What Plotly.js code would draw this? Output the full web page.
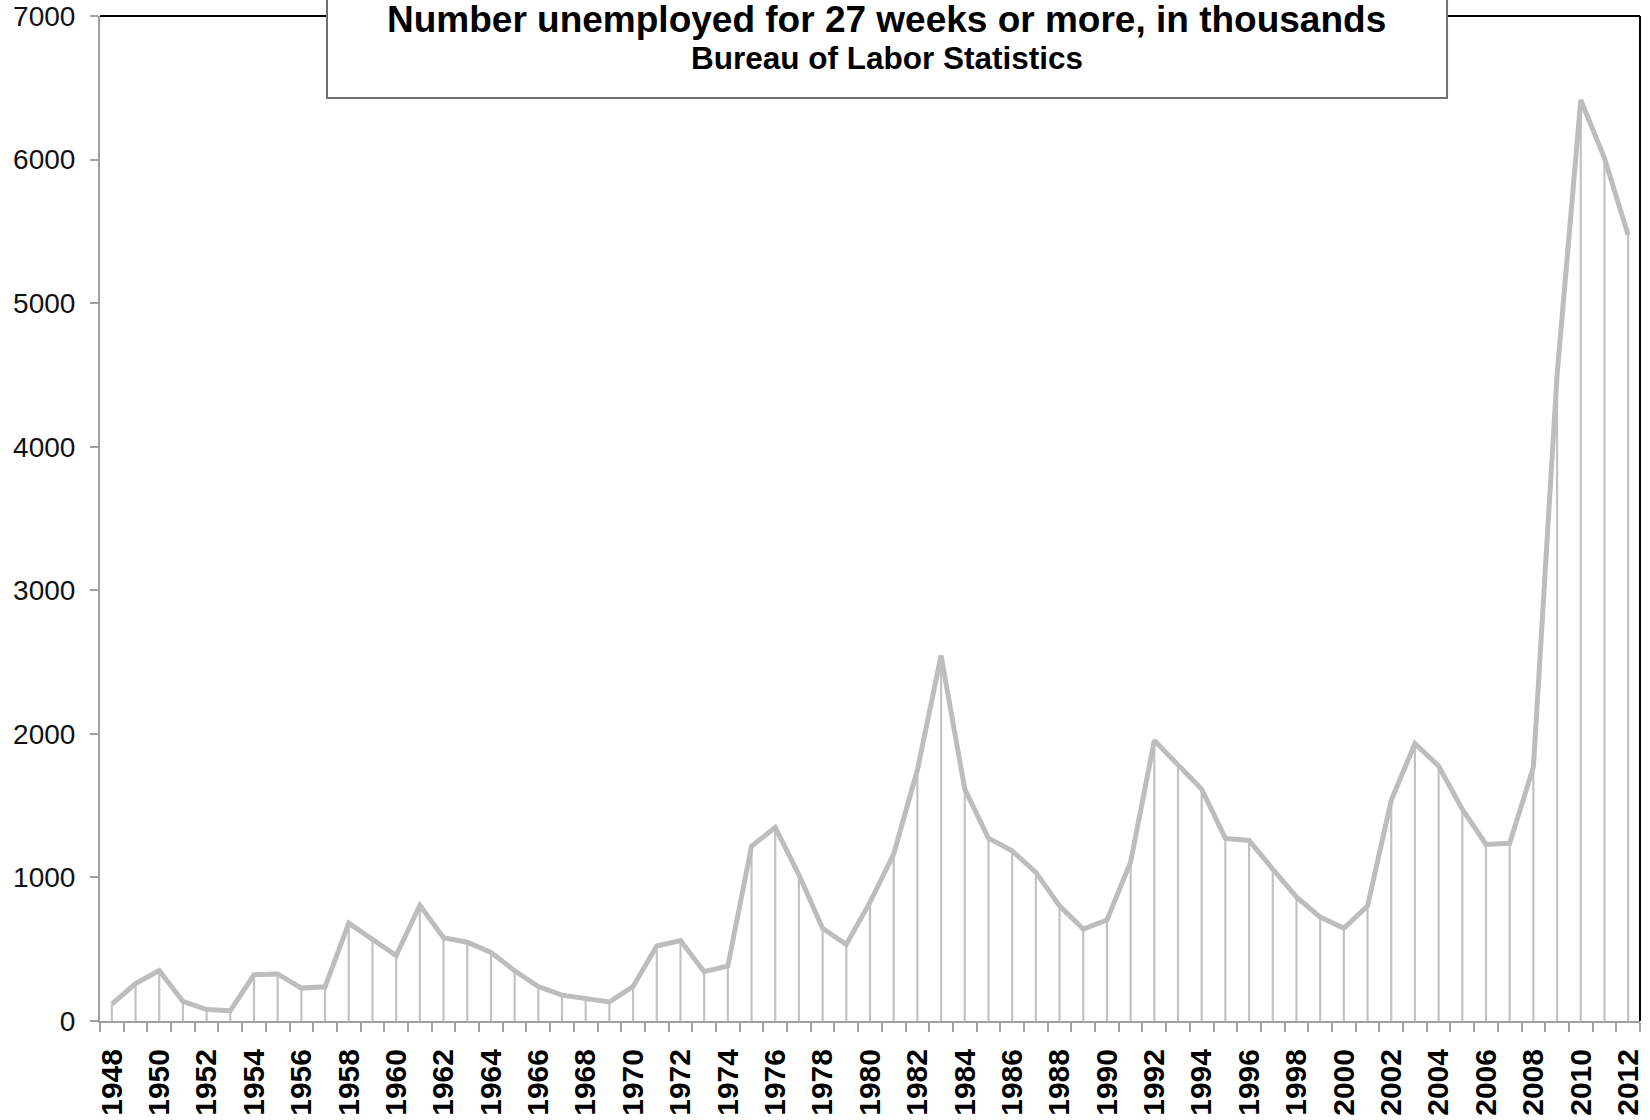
<!DOCTYPE html>
<html>
<head>
<meta charset="utf-8">
<script src="https://cdn.plot.ly/plotly-3.0.1.min.js"></script>
<style>html,body{margin:0;padding:0;background:#fff;}#chart{width:1650px;height:1120px;}</style>
</head>
<body>
<div id="chart"></div>
<script>
const years = [1948,1949,1950,1951,1952,1953,1954,1955,1956,1957,1958,1959,1960,1961,1962,1963,1964,1965,1966,1967,1968,1969,1970,1971,1972,1973,1974,1975,1976,1977,1978,1979,1980,1981,1982,1983,1984,1985,1986,1987,1988,1989,1990,1991,1992,1993,1994,1995,1996,1997,1998,1999,2000,2001,2002,2003,2004,2005,2006,2007,2008,2009,2010,2011,2012];
const unemployed27 = [117,260,352,136,80,72,322,328,229,238,682,566,456,806,580,549,478,350,240,180,157,133,240,522,561,343,383,1218,1348,1018,645,533,828,1163,1748,2545,1615,1273,1185,1035,802,640,703,1108,1954,1788,1614,1272,1258,1057,864,724,646,801,1537,1932,1776,1476,1230,1238,1768,4500,6415,6010,5475];
const xTickYears = [1948,1950,1952,1954,1956,1958,1960,1962,1964,1966,1968,1970,1972,1974,1976,1978,1980,1982,1984,1986,1988,1990,1992,1994,1996,1998,2000,2002,2004,2006,2008,2010,2012];
const xTickText = xTickYears.map(String);
const yTicks = [0,1000,2000,3000,4000,5000,6000,7000];
const titleText = "Number unemployed for 27 weeks or more, in thousands";
const subtitleText = "Bureau of Labor Statistics";

const FONT = "Liberation Sans, Arial, Helvetica, sans-serif";

const trace = {
  type: "scatter",
  mode: "lines",
  x: years,
  y: unemployed27,
  line: {color: "#bdbdbd", width: 5},
  error_y: {
    type: "data",
    symmetric: false,
    array: unemployed27.map(() => 0),
    arrayminus: unemployed27,
    width: 0,
    thickness: 2.2,
    color: "#c2c2c2"
  },
  hoverinfo: "x+y",
  showlegend: false
};

const layout = {
  width: 1650,
  height: 1120,
  margin: {l: 100, r: 10, t: 16, b: 99},
  paper_bgcolor: "#ffffff",
  plot_bgcolor: "#ffffff",
  showlegend: false,
  font: {family: FONT, color: "#111"},
  xaxis: {
    type: "linear",
    range: [years[0] - 0.5, years[years.length - 1] + 0.5],
    tickmode: "array",
    tickvals: xTickYears,
    ticktext: xTickText,
    ticks: "",
    tickangle: -90,
    ticklabelstandoff: 14,
    tickfont: {family: FONT, size: 30, weight: "bold", color: "#000"},
    showline: true,
    linecolor: "#a0a0a0",
    linewidth: 2,
    showgrid: false,
    zeroline: false,
    minor: {
      ticks: "outside",
      tick0: years[0] - 0.5,
      dtick: 1,
      ticklen: 9,
      tickwidth: 2,
      tickcolor: "#a0a0a0",
      showgrid: false
    }
  },
  yaxis: {
    range: [yTicks[0], yTicks[yTicks.length - 1]],
    tickmode: "array",
    tickvals: yTicks,
    ticks: "outside",
    ticklen: 8,
    tickwidth: 2,
    tickcolor: "#a0a0a0",
    ticklabelstandoff: 9,
    tickfont: {family: FONT, size: 28, color: "#111"},
    showline: true,
    linecolor: "#a0a0a0",
    linewidth: 2,
    showgrid: false,
    zeroline: false
  },
  shapes: [
    {type: "line", xref: "paper", yref: "paper", x0: 0, x1: 1, y0: 1, y1: 1, line: {color: "#000", width: 2}},
    {type: "line", xref: "paper", yref: "paper", x0: 1, x1: 1, y0: 0, y1: 1, line: {color: "#000", width: 2}},
    {type: "rect", xref: "paper", yref: "paper", x0: 0.1474, x1: 0.8747, y0: 0.9184, y1: 1.03,
     fillcolor: "#ffffff", line: {color: "#707070", width: 2}, layer: "above"}
  ],
  annotations: [
    {text: titleText, xref: "paper", yref: "paper", x: 0.511, y: 0.9965, xanchor: "center", yanchor: "middle",
     borderpad: 0, showarrow: false, font: {family: FONT, size: 37, weight: "bold", color: "#000"}},
    {text: subtitleText, xref: "paper", yref: "paper", x: 0.511, y: 0.958, xanchor: "center", yanchor: "middle",
     borderpad: 0, showarrow: false, font: {family: FONT, size: 31.5, weight: "bold", color: "#000"}}
  ]
};

Plotly.newPlot("chart", [trace], layout, {displayModeBar: false, staticPlot: true});
</script>
</body>
</html>
